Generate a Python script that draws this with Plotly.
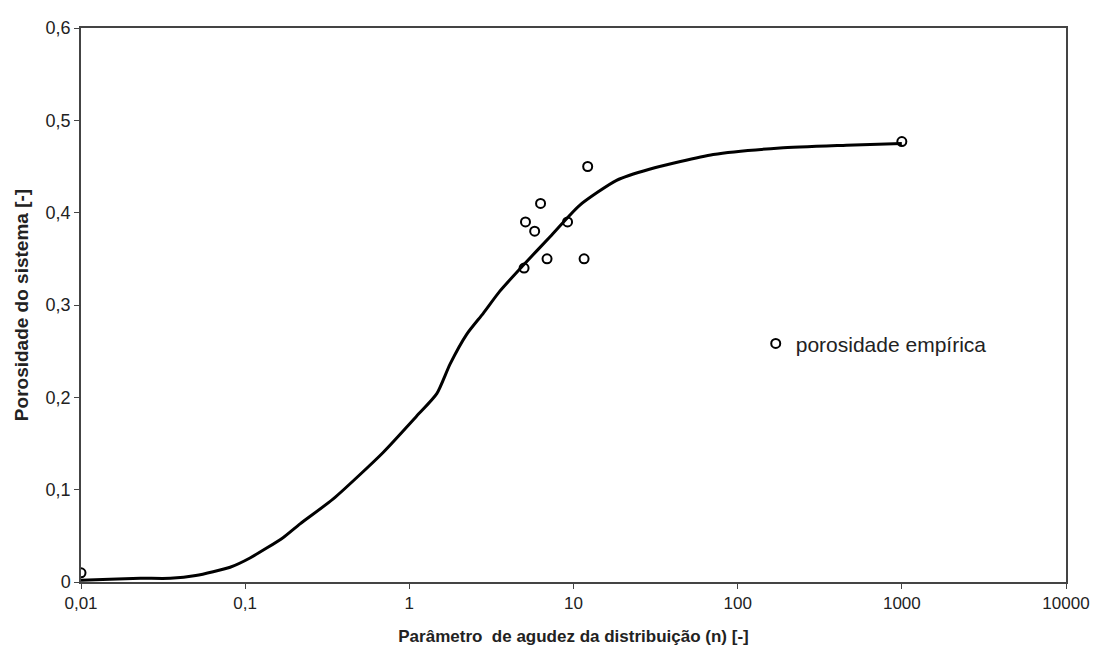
import plotly.graph_objects as go

# Empirical porosity points
emp_n = [0.01, 5.0, 5.1, 5.8, 6.3, 6.9, 9.2, 11.6, 12.2, 1000]
emp_phi = [0.01, 0.34, 0.39, 0.38, 0.41, 0.35, 0.39, 0.35, 0.45, 0.477]

# Model curve
curve_n = [0.01, 0.015, 0.023, 0.035, 0.05, 0.081, 0.107, 0.17, 0.216, 0.344, 0.69, 1.1, 1.47,
           1.77, 2.23, 2.82, 3.56, 4.94, 7.2, 10.9, 18.3, 29, 71, 181, 460, 1000]
curve_phi = [0.002, 0.003, 0.004, 0.004, 0.007, 0.016, 0.026, 0.048, 0.063, 0.090, 0.140, 0.179,
             0.204, 0.236, 0.268, 0.291, 0.315, 0.343, 0.374, 0.408, 0.435, 0.447, 0.463, 0.470,
             0.473, 0.475]

x_tickvals = [0.01, 0.1, 1, 10, 100, 1000, 10000]
x_ticktext = ["0,01", "0,1", "1", "10", "100", "1000", "10000"]
y_tickvals = [0, 0.1, 0.2, 0.3, 0.4, 0.5, 0.6]
y_ticktext = ["0", "0,1", "0,2", "0,3", "0,4", "0,5", "0,6"]

fig = go.Figure()
fig.add_trace(go.Scatter(x=curve_n, y=curve_phi, mode="lines",
                         line=dict(color="black", width=3, shape="spline", smoothing=0.6),
                         showlegend=False, hoverinfo="skip"))
fig.add_trace(go.Scatter(x=emp_n, y=emp_phi, mode="markers", name="porosidade empírica",
                         marker=dict(symbol="circle-open", size=9, color="black", line=dict(width=2))))

fig.update_layout(
    width=1096, height=653,
    margin=dict(l=73, r=38, t=10, b=79),
    paper_bgcolor="white", plot_bgcolor="white",
    font=dict(family="Liberation Sans, Arial, sans-serif", size=16, color="#222"),
    legend=dict(x=0.685, y=0.43, xanchor="left", yanchor="middle", bgcolor="rgba(0,0,0,0)",
                font=dict(size=21, color="#222"), itemwidth=30),
    xaxis=dict(type="log", range=[-2, 4], tickvals=x_tickvals, ticktext=x_ticktext,
               tickfont=dict(size=17),
               showgrid=False, zeroline=False, showline=True, linecolor="#444", linewidth=1.5,
               mirror=True, ticks="outside", ticklen=5, tickcolor="#444",
               title=dict(text="<b>Parâmetro  de agudez da distribuição (n) [-]</b>", font=dict(size=17), standoff=18)),
    yaxis=dict(range=[0, 0.6], tickvals=y_tickvals, ticktext=y_ticktext,
               tickfont=dict(size=18),
               showgrid=False, zeroline=False, showline=True, linecolor="#444", linewidth=1.5,
               mirror=True, ticks="outside", ticklen=5, tickcolor="#444",
               title=dict(text="<b>Porosidade do sistema [-]</b>", font=dict(size=19), standoff=12)),
)

fig.write_html("out.html")
